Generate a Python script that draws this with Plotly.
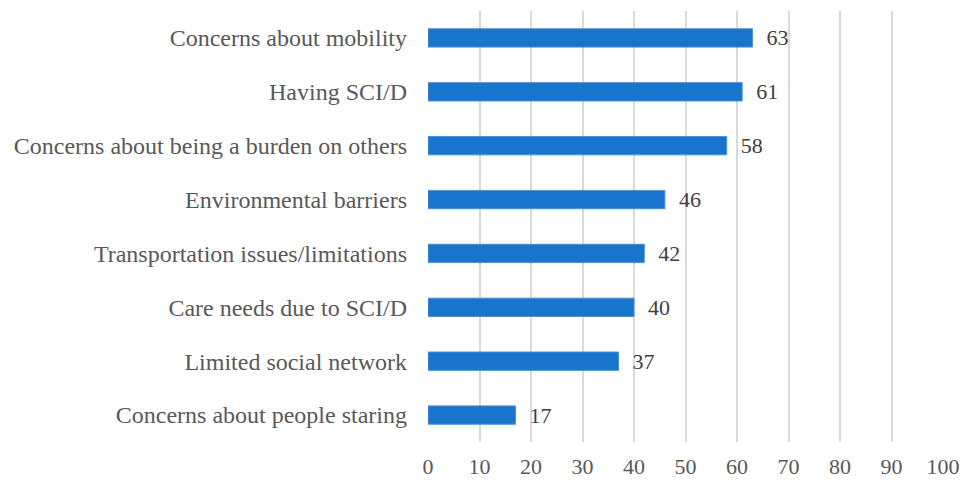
import plotly.graph_objects as go

categories = [
    "Concerns about people staring",
    "Limited social network",
    "Care needs due to SCI/D",
    "Transportation issues/limitations",
    "Environmental barriers",
    "Concerns about being a burden on others",
    "Having SCI/D",
    "Concerns about mobility",
]
values = [17, 37, 40, 42, 46, 58, 61, 63]
tick_vals = list(range(0, 101, 10))

fig = go.Figure(go.Bar(
    x=values, y=categories, orientation="h",
    marker=dict(color="#1874CD", line=dict(color="#4a90d9", width=1)),
    text=["  " + str(v) for v in values], textposition="outside",
    constraintext="none",
    textfont=dict(family="Liberation Serif", size=22, color="#404040"),
    cliponaxis=False,
))
fig.update_layout(
    width=962, height=480,
    margin=dict(l=428, r=19, t=11, b=38),
    paper_bgcolor="white", plot_bgcolor="white",
    bargap=0.66, showlegend=False,
    font=dict(family="Liberation Serif", size=20, color="#595959"),
)
fig.update_xaxes(range=[0, 100], tickvals=tick_vals, showgrid=True,
                 gridcolor="#d9d9d9", gridwidth=1.5, zeroline=False,
                 showline=False, ticks="", ticklen=0, automargin=False,
                 ticklabelstandoff=9,
                 tickfont=dict(size=22, color="#595959"))
fig.update_yaxes(showgrid=False, ticks="", ticklabelstandoff=20, automargin=False,
                 tickfont=dict(size=24, color="#595959"))
fig.write_html(
    "out.html",
    config={"displayModeBar": False},
    post_script="document.body.style.margin='0';document.body.style.overflow='hidden';",
)
